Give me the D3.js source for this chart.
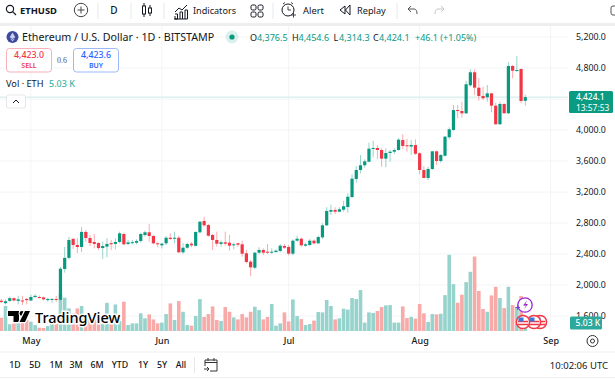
<!DOCTYPE html>
<html>
<head>
<meta charset="utf-8">
<script src="https://cdn.jsdelivr.net/npm/d3@7"></script>
<style>
  html, body { margin: 0; padding: 0; background: #fff; overflow: hidden; }
  svg { display: block; }
  text { font-family: "Noto Sans", sans-serif; fill: #131722; }
</style>
</head>
<body>
<svg id="chart" width="615" height="379"></svg>
<script>
// one row per month: late Apr, May, Jun, Jul, Aug
var firstDay = new Date(Date.UTC(2025, 3, 24));

var opens = [
  1797,1765,1795,1830,1795,1800,1820,
  1800,1845,1845,1840,1805,1810,1820,1810,2207,2350,2594,2516,2490,2685,2606,2555,2542,2477,2495,2540,2530,2555,2658,2530,2540,2545,2568,2645,2680,2632,2538,
  2512,2538,2610,2597,2610,2422,2481,2533,2505,2680,2826,2774,2645,2581,2530,2551,2546,2512,2538,2525,2409,2301,2223,2417,2452,2430,2417,2425,2439,2503,
  2490,2404,2572,2597,2507,2516,2572,2538,2615,2770,2946,2968,2946,2972,3006,3135,3368,3484,3545,3591,3759,3768,3742,3630,3703,3720,3742,3871,3803,3786,3806,
  3700,3484,3381,3497,3725,3600,3668,3906,4000,4258,4245,4215,4577,4745,4546,4439,4422,4473,4314,4074,4336,4216,4826,4765,4787,4376.5
];
var highs = [
  1820,1815,1850,1840,1860,1860,1835,
  1875,1880,1865,1850,1835,1830,1860,2235,2490,2620,2610,2606,2748,2710,2645,2658,2550,2559,2603,2581,2603,2688,2675,2581,2581,2590,2675,2700,2787,2645,2551,
  2546,2632,2667,2688,2636,2542,2546,2555,2693,2825,2881,2787,2658,2688,2572,2688,2645,2546,2546,2572,2452,2323,2430,2487,2473,2529,2473,2461,2529,2529,
  2516,2590,2636,2615,2546,2594,2590,2636,2796,3003,3036,3003,3003,3084,3183,3428,3535,3677,3622,3836,3862,3806,3764,3764,3742,3764,3893,3945,3888,3871,3880,
  3712,3535,3526,3729,3733,3690,3923,4035,4323,4323,4365,4636,4783,4783,4667,4559,4581,4481,4352,4365,4345,4874,4839,4955,4796,4454.6
];
var lows = [
  1765,1750,1780,1790,1750,1740,1750,
  1795,1835,1825,1800,1785,1770,1780,1800,2160,2330,2465,2413,2426,2559,2503,2473,2452,2335,2357,2452,2461,2538,2516,2516,2525,2525,2546,2623,2559,2525,2487,
  2473,2516,2581,2538,2409,2400,2468,2490,2499,2667,2752,2623,2452,2494,2494,2507,2443,2461,2494,2365,2280,2116,2203,2396,2387,2400,2400,2417,2422,2465,
  2383,2383,2559,2494,2494,2503,2525,2529,2594,2761,2903,2916,2938,2946,2933,3119,3320,3441,3514,3583,3648,3622,3526,3519,3591,3690,3733,3751,3720,3677,3677,
  3432,3377,3355,3484,3548,3578,3655,3880,3991,4151,4159,4206,4559,4452,4378,4387,4365,4228,4065,4065,4206,4206,4667,4752,4345,4314.3
];
var closes = [
  1780,1790,1830,1800,1815,1795,1805,
  1845,1860,1835,1815,1820,1820,1810,2210,2350,2581,2516,2490,2685,2606,2542,2530,2477,2503,2530,2525,2555,2667,2525,2550,2552,2568,2658,2680,2632,2538,2525,
  2533,2610,2594,2610,2422,2481,2529,2512,2684,2817,2770,2636,2581,2533,2551,2533,2507,2525,2520,2404,2297,2228,2417,2452,2417,2417,2430,2443,2507,2481,
  2404,2572,2597,2512,2525,2572,2538,2619,2770,2955,2968,2946,2977,3016,3139,3372,3484,3545,3596,3759,3768,3742,3630,3703,3720,3742,3875,3794,3794,3806,3694,
  3484,3381,3497,3725,3600,3677,3914,4009,4258,4245,4215,4590,4745,4546,4439,4409,4473,4314,4074,4336,4216,4826,4765,4774,4374,4424.1
];
// volume in thousands of ETH
var volumes = [
  8.7,16.4,4.4,5,5.5,7.2,7.2,
  6.1,3.9,2.2,2,3.3,4.6,5.5,24.2,21.8,14.8,11.6,14.8,16.4,9.4,10.5,7.2,9.4,4.6,18.5,5,17.4,6.5,19.2,3.9,5,5,11.6,8.3,10.9,7.6,5,
  5.5,11.1,18.1,7.2,19.6,12.6,3.9,3.5,9.8,20.9,9.2,11.1,16.1,7.2,6.5,15.7,12.6,8.9,7.6,11.1,8.9,12.6,15.9,13.7,7.6,9.2,17.7,3.5,5,12.2,
  6.3,20.7,9.8,7.8,3.9,4.6,6.8,12.4,12.2,20.3,16.4,7.6,8.3,14.6,14,21.6,20.9,26.8,5.5,12.2,11.8,13.1,15.7,16.8,17,5.5,5.5,16.1,8.5,9.2,8.1,
  17.7,11.6,5.9,11.1,10.9,11.3,23.5,49.9,30.7,18.5,23.8,32,38.8,48.8,26.2,14.4,12.6,23.3,29,21.6,15,29,17,15.5,22.9,5.03
];

var priceTicks = [5200, 4800, 4000, 3600, 3200, 2800, 2400, 2000, 1600];
var gridPrices = [5200, 4800, 4400, 4000, 3600, 3200, 2800, 2400, 2000, 1600];
var monthTicks = [new Date(Date.UTC(2025, 4, 1)), new Date(Date.UTC(2025, 5, 1)), new Date(Date.UTC(2025, 6, 1)), new Date(Date.UTC(2025, 7, 1)), new Date(Date.UTC(2025, 8, 1))];
var rangeLabels = ["1D", "5D", "1M", "3M", "6M", "YTD", "1Y", "5Y", "All"];
var rangeCenters = [15, 35, 56, 76, 97, 120, 143, 162, 181];

var upColor = "#089981", downColor = "#f23645";
var upVolColor = "#96d3cc", downVolColor = "#f8aaa8";
var paneRight = 568, paneTop = 26, paneBottom = 332;

var svg = d3.select("#chart");

// build the candle rows from the arrays
var candles = opens.map(function (o, i) {
  return {date: d3.utcDay.offset(firstDay, i), open: o, high: highs[i], low: lows[i], close: closes[i], volume: volumes[i]};
});

var x = d3.scaleUtc().domain([firstDay, candles[candles.length - 1].date]).range([1.3, 525.3]);
var y = d3.scaleLinear().domain([1600, 5200]).range([316, 37]);
var volY = d3.scaleLinear().domain([0, 50]).range([331, 254.7]);

// gridlines behind everything
svg.append("g").selectAll("line").data(gridPrices).enter().append("line")
  .attr("x1", 0).attr("x2", paneRight)
  .attr("y1", function (d) { return y(d); }).attr("y2", function (d) { return y(d); })
  .attr("stroke", "#f3f4f6");
svg.append("g").selectAll("line").data(monthTicks).enter().append("line")
  .attr("x1", function (d) { return x(d); }).attr("x2", function (d) { return x(d); })
  .attr("y1", paneTop).attr("y2", paneBottom)
  .attr("stroke", "#f3f4f6");

// volume bars
svg.append("g").selectAll("rect").data(candles).enter().append("rect")
  .attr("x", function (d) { return x(d.date) - 1.8; })
  .attr("width", 3.6)
  .attr("y", function (d) { return volY(d.volume); })
  .attr("height", function (d) { return volY(0) - volY(d.volume); })
  .attr("fill", function (d) { return d.close >= d.open ? upVolColor : downVolColor; });

// last price line
svg.append("line").attr("x1", 0).attr("x2", paneRight)
  .attr("y1", y(4424.1)).attr("y2", y(4424.1))
  .attr("stroke", "#cdeae5");

// candles: pale wick, solid body
var candleG = svg.append("g").selectAll("g").data(candles).enter().append("g");
candleG.append("line")
  .attr("x1", function (d) { return x(d.date); }).attr("x2", function (d) { return x(d.date); })
  .attr("y1", function (d) { return y(d.high); }).attr("y2", function (d) { return y(d.low); })
  .attr("stroke", function (d) { return d.close >= d.open ? upColor : downColor; })
  .attr("stroke-width", 1).attr("stroke-opacity", 0.42);
candleG.append("rect")
  .attr("x", function (d) { return x(d.date) - 1.6; })
  .attr("width", 3.2)
  .attr("y", function (d) { return y(Math.max(d.open, d.close)); })
  .attr("height", function (d) { return Math.max(1, Math.abs(y(d.open) - y(d.close))); })
  .attr("fill", function (d) { return d.close >= d.open ? upColor : downColor; });

// price axis
var priceAxis = svg.append("g").attr("transform", "translate(576,0)")
  .call(d3.axisRight(y).tickValues(priceTicks).tickSize(0).tickPadding(0).tickFormat(d3.format(",.1f")));
priceAxis.select(".domain").remove();
priceAxis.selectAll("text").attr("font-size", 8.8).attr("fill", "#131722").style("font-family", '"Noto Sans", sans-serif');

// time axis
var timeAxis = svg.append("g").attr("transform", "translate(0,335)")
  .call(d3.axisBottom(x).tickValues(monthTicks).tickSize(0).tickPadding(3).tickFormat(d3.utcFormat("%b")));
timeAxis.select(".domain").remove();
timeAxis.selectAll("text").attr("font-size", 9).attr("font-weight", 500).attr("fill", "#131722").style("font-family", '"Noto Sans", sans-serif');

function label(txt, px, py, size, color, weight, anchor) {
  return svg.append("text").text(txt).attr("x", px).attr("y", py)
    .attr("font-size", size).style("fill", color || "#131722")
    .attr("font-weight", weight || 400).attr("text-anchor", anchor || "start")
    .attr("dominant-baseline", "central");
}

// grey band and footer lines
svg.append("rect").attr("x", 0).attr("y", 23).attr("width", 615).attr("height", 3).attr("fill", "#eeeeee");
svg.append("line").attr("x1", 0).attr("x2", 615).attr("y1", 352).attr("y2", 352).attr("stroke", "#f0f1f3");
svg.append("line").attr("x1", 0).attr("x2", 615).attr("y1", 377.5).attr("y2", 377.5).attr("stroke", "#eeeeee");

// price tag of the last close
svg.append("rect").attr("x", 569).attr("y", 91).attr("width", 44).attr("height", 22).attr("rx", 1.5).attr("fill", "#0b9b82");
label("4,424.1", 576, 96.6, 8.4, "#fff", 500);
label("13:57:53", 576, 107.4, 8.4, "#fff", 400);

// volume tag
svg.append("rect").attr("x", 570).attr("y", 316.5).attr("width", 32).attr("height", 13).attr("rx", 1.5).attr("fill", "#2da89c");
label("5.03 K", 575.5, 323, 8.6, "#fff", 500);

// toolbar
var iconStroke = "#131722";
var bar = svg.append("g").attr("fill", "none").attr("stroke", iconStroke).attr("stroke-width", 1);
bar.append("circle").attr("cx", 10).attr("cy", 9).attr("r", 3.6).attr("stroke-width", 1.2);
bar.append("path").attr("d", "M12.7 11.7L16 15").attr("stroke-width", 1.2);
label("ETHUSD", 20, 10, 9.4, "#131722", 700);
bar.append("circle").attr("cx", 81).attr("cy", 10).attr("r", 6.7).attr("stroke", "#444");
bar.append("path").attr("d", "M77.5 10H84.5M81 6.5V13.5").attr("stroke", "#444");
label("D", 114, 10, 10, "#131722", 500, "middle");
// candle icon
bar.append("rect").attr("x", 142.5).attr("y", 6).attr("width", 3).attr("height", 8);
bar.append("path").attr("d", "M144 3V6M144 14V17M150 5V8M150 13V16");
bar.append("rect").attr("x", 148.5).attr("y", 8).attr("width", 3).attr("height", 5);
// indicators icon
bar.append("path").attr("d", "M175 12L179 8L182 10L187 5M175 16V19H177.5V14H175M180 19V12H182.5V19M185 19V10H187.5V19H174");
label("Indicators", 193, 10, 9.1, "#131722", 400);
// layouts icon
bar.selectAll(null).data([[251, 5], [258, 5], [251, 12], [258, 12]]).enter().append("rect")
  .attr("x", function (d) { return d[0]; }).attr("y", function (d) { return d[1]; })
  .attr("width", 5).attr("height", 5).attr("rx", 1.5);
// alert icon
bar.append("circle").attr("cx", 288).attr("cy", 10).attr("r", 6);
bar.append("path").attr("d", "M288 6.5V10H291M283 4L285 2.5M293 4L291 2.5M291 15H296M293.5 12.5V17.5").attr("stroke", "#444");
label("Alert", 303, 10, 9.4, "#131722", 400);
// replay icon
bar.append("path").attr("d", "M345 6L340 10L345 14ZM350 5V15L345.5 10Z");
label("Replay", 357, 10, 9.2, "#131722", 400);
// undo, redo
bar.append("path").attr("d", "M408 9H414Q417 9 417 14M408 9L411 6M408 9L411 12").attr("stroke", "#555");
bar.append("path").attr("d", "M444 9H438Q435 9 435 14M444 9L441 6M444 9L441 12").attr("stroke", "#c4c6cc");
bar.append("rect").attr("x", 611).attr("y", 6).attr("width", 8).attr("height", 9).attr("rx", 2).attr("stroke", "#555");
// toolbar separators
svg.append("g").selectAll("line").data([98, 131, 164, 273, 397]).enter().append("line")
  .attr("x1", function (d) { return d; }).attr("x2", function (d) { return d; })
  .attr("y1", 3).attr("y2", 19).attr("stroke", "#e7e8eb");

// legend row
svg.append("circle").attr("cx", 12.5).attr("cy", 37).attr("r", 6).attr("fill", "#3d4a9e");
svg.append("path").attr("d", "M12.5 32.5L15.3 37.2L12.5 39L9.7 37.2ZM12.5 39.7L15 38.2L12.5 41.5L10 38.2Z").attr("fill", "#c9d0ee");
label("Ethereum / U.S. Dollar · 1D · BITSTAMP", 22, 37, 10.7, "#131722", 400);
svg.append("circle").attr("cx", 232).attr("cy", 37).attr("r", 6.5).attr("fill", "#d9f0ec");
svg.append("circle").attr("cx", 232).attr("cy", 37).attr("r", 2.6).attr("fill", upColor);

var ohlcLegend = [["O", 250, "4,376.5", 257], ["H", 292, "4,454.6", 298.5], ["L", 333.5, "4,314.3", 339], ["C", 373, "4,424.1", 379]];
ohlcLegend.forEach(function (d) {
  label(d[0], d[1], 37, 9, "#131722", 400);
  label(d[2], d[3], 37, 9, upColor, 400);
});
label("+46.1 (+1.05%)", 415, 37, 9, upColor, 400);

// sell / buy boxes
svg.append("rect").attr("x", 6.5).attr("y", 48.5).attr("width", 45).attr("height", 23.5).attr("rx", 3).attr("fill", "#fff").attr("stroke", "#f9b0b8");
label("4,423.0", 29, 55, 8.8, downColor, 500, "middle");
label("SELL", 29, 65, 7, downColor, 600, "middle");
label("0.6", 62, 60, 8, "#555", 400, "middle").style("font-family", '"Liberation Serif", serif');
svg.append("rect").attr("x", 73.5).attr("y", 48.5).attr("width", 45).attr("height", 23.5).attr("rx", 3).attr("fill", "#fff").attr("stroke", "#9db8fb");
label("4,423.6", 96, 55, 8.8, "#2962ff", 500, "middle");
label("BUY", 96, 65, 7, "#2962ff", 600, "middle");

// volume legend and collapse button
label("Vol · ETH", 6, 83.5, 9.2, "#131722", 400);
label("5.03 K", 49, 83.5, 9, "#3fb3a5", 500);
svg.append("rect").attr("x", 6.5).attr("y", 95).attr("width", 19).attr("height", 13).attr("rx", 2).attr("fill", "#fff").attr("stroke", "#e6e7ea");
svg.append("path").attr("d", "M13 103L16 100L19 103").attr("fill", "none").attr("stroke", "#131722");

// TradingView logo with a white halo over the bars
var logo = svg.append("g");
logo.append("path").attr("d", "M8 311H19V322H13.5V316H8Z").attr("fill", "#000").attr("stroke", "#fff").attr("stroke-width", 2.5).attr("paint-order", "stroke");
logo.append("circle").attr("cx", 22).attr("cy", 313.5).attr("r", 2.4).attr("fill", "#000").attr("stroke", "#fff").attr("stroke-width", 2).attr("paint-order", "stroke");
logo.append("path").attr("d", "M25 311H30L25 322H19.5Z").attr("fill", "#000").attr("stroke", "#fff").attr("stroke-width", 2.5).attr("paint-order", "stroke");
label("TradingView", 35, 316.5, 14.5, "#000", 500)
  .attr("stroke", "#fff").attr("stroke-width", 3).attr("paint-order", "stroke");

// event markers at the last bars
var flags = [540, 534, 523];
flags.forEach(function (cx) {
  var g = svg.append("g");
  g.append("circle").attr("cx", cx).attr("cy", 322).attr("r", 6.6).attr("fill", "#fff").attr("stroke", downColor).attr("stroke-width", 1.5);
  g.append("path").attr("d", "M" + (cx - 5) + " 321.5H" + (cx + 5) + "M" + (cx - 5) + " 324.5H" + (cx + 5)).attr("stroke", downColor).attr("stroke-width", 1.3);
  g.append("rect").attr("x", cx - 4.5).attr("y", 317.5).attr("width", 5).attr("height", 4).attr("fill", "#3b78d8");
});
svg.append("circle").attr("cx", 525).attr("cy", 305).attr("r", 7.2).attr("fill", "#fff").attr("stroke", "#9c27d0").attr("stroke-width", 1.3);
svg.append("path").attr("d", "M527 300.5L523 305.5H526L524 309.5L528 304H525.5Z").attr("fill", "#9c27d0");
svg.append("path").attr("d", "M515.5 307.5H520M517.8 305.2V309.8").attr("stroke", "#7b3fd0").attr("stroke-width", 1.2);

// gear in the axis corner
svg.append("circle").attr("cx", 592.5).attr("cy", 341).attr("r", 5.5).attr("fill", "none").attr("stroke", "#333");
svg.append("circle").attr("cx", 592.5).attr("cy", 341).attr("r", 2).attr("fill", "none").attr("stroke", "#333");

// range buttons
svg.append("g").selectAll("text").data(rangeLabels).enter().append("text")
  .text(function (d) { return d; })
  .attr("x", function (d, i) { return rangeCenters[i]; })
  .attr("y", 365).attr("text-anchor", "middle").attr("dominant-baseline", "central")
  .attr("font-size", 8.8).attr("font-weight", 500);
svg.append("line").attr("x1", 194.5).attr("x2", 194.5).attr("y1", 357).attr("y2", 373).attr("stroke", "#e7e8eb");
// calendar icon
svg.append("path").attr("d", "M205 366V360H217V371H210M205 362.5H217M208 358V361M214 358V361M204 369H209M207 367L209 369L207 371")
  .attr("fill", "none").attr("stroke", "#333");
label("10:02:06 UTC", 608, 365, 9.5, "#131722", 400, "end");
</script>
</body>
</html>
